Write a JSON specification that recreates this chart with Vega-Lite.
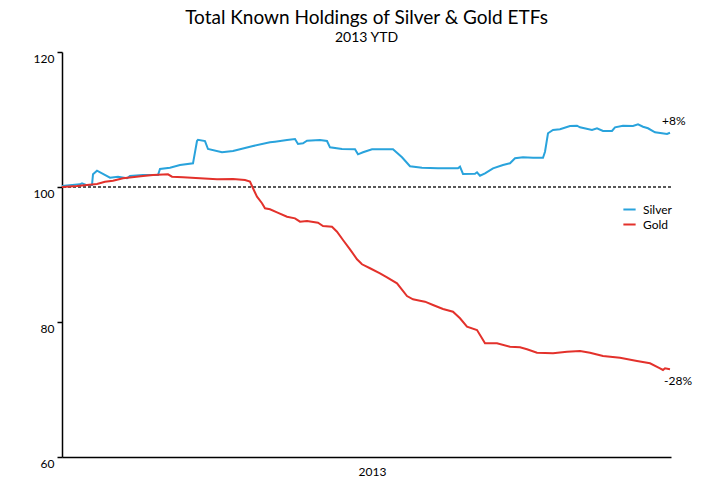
{
  "$schema": "https://vega.github.io/schema/vega-lite/v6.json",
  "autosize": "none",
  "width": 609,
  "height": 405,
  "padding": {"left": 62, "top": 52, "right": 57, "bottom": 25},
  "background": "white",
  "config": {
    "view": {"stroke": null},
    "font": "Lato",
    "axis": {"labelFont": "Lato", "titleFont": "Lato", "labelColor": "black", "titleColor": "black", "domainColor": "black", "tickColor": "black", "grid": false}
  },
  "title": {
    "text": "Total Known Holdings of Silver & Gold ETFs",
    "subtitle": "2013 YTD",
    "anchor": "middle",
    "font": "Lato",
    "fontSize": 19,
    "fontWeight": "normal",
    "color": "black",
    "subtitleFont": "Lato",
    "subtitleFontSize": 14,
    "subtitleColor": "black",
    "subtitlePadding": 3,
    "offset": 6
  },
  "datasets": {
    "main": [
      {"series": "Silver", "t": 0, "v": 100.15},
      {"series": "Silver", "t": 18, "v": 100.4},
      {"series": "Silver", "t": 20, "v": 100.55},
      {"series": "Silver", "t": 24, "v": 100.3},
      {"series": "Silver", "t": 30, "v": 100.3},
      {"series": "Silver", "t": 31, "v": 101.88},
      {"series": "Silver", "t": 35, "v": 102.41},
      {"series": "Silver", "t": 48, "v": 101.38},
      {"series": "Silver", "t": 56, "v": 101.53},
      {"series": "Silver", "t": 65, "v": 101.29},
      {"series": "Silver", "t": 68, "v": 101.63},
      {"series": "Silver", "t": 81, "v": 101.78},
      {"series": "Silver", "t": 96, "v": 101.78},
      {"series": "Silver", "t": 98, "v": 102.67},
      {"series": "Silver", "t": 108, "v": 102.86},
      {"series": "Silver", "t": 118, "v": 103.26},
      {"series": "Silver", "t": 131, "v": 103.51},
      {"series": "Silver", "t": 135, "v": 106.81},
      {"series": "Silver", "t": 136, "v": 107.0},
      {"series": "Silver", "t": 143, "v": 106.81},
      {"series": "Silver", "t": 146, "v": 105.63},
      {"series": "Silver", "t": 160, "v": 105.14},
      {"series": "Silver", "t": 171, "v": 105.33},
      {"series": "Silver", "t": 191, "v": 106.07},
      {"series": "Silver", "t": 208, "v": 106.62},
      {"series": "Silver", "t": 213, "v": 106.71},
      {"series": "Silver", "t": 225, "v": 106.96},
      {"series": "Silver", "t": 233, "v": 107.11},
      {"series": "Silver", "t": 236, "v": 106.37},
      {"series": "Silver", "t": 241, "v": 106.47},
      {"series": "Silver", "t": 245, "v": 106.86},
      {"series": "Silver", "t": 258, "v": 106.96},
      {"series": "Silver", "t": 265, "v": 106.81},
      {"series": "Silver", "t": 268, "v": 105.88},
      {"series": "Silver", "t": 280, "v": 105.63},
      {"series": "Silver", "t": 293, "v": 105.59},
      {"series": "Silver", "t": 296, "v": 104.84},
      {"series": "Silver", "t": 301, "v": 105.14},
      {"series": "Silver", "t": 310, "v": 105.59},
      {"series": "Silver", "t": 331, "v": 105.59},
      {"series": "Silver", "t": 340, "v": 104.4},
      {"series": "Silver", "t": 348, "v": 103.07},
      {"series": "Silver", "t": 360, "v": 102.86},
      {"series": "Silver", "t": 376, "v": 102.77},
      {"series": "Silver", "t": 396, "v": 102.77},
      {"series": "Silver", "t": 398, "v": 103.01},
      {"series": "Silver", "t": 401, "v": 101.93},
      {"series": "Silver", "t": 413, "v": 101.97},
      {"series": "Silver", "t": 415, "v": 102.18},
      {"series": "Silver", "t": 418, "v": 101.67},
      {"series": "Silver", "t": 423, "v": 102.03},
      {"series": "Silver", "t": 431, "v": 102.77},
      {"series": "Silver", "t": 441, "v": 103.26},
      {"series": "Silver", "t": 448, "v": 103.51},
      {"series": "Silver", "t": 453, "v": 104.25},
      {"series": "Silver", "t": 461, "v": 104.4},
      {"series": "Silver", "t": 471, "v": 104.34},
      {"series": "Silver", "t": 481, "v": 104.34},
      {"series": "Silver", "t": 483, "v": 105.23},
      {"series": "Silver", "t": 486, "v": 107.96},
      {"series": "Silver", "t": 491, "v": 108.44},
      {"series": "Silver", "t": 498, "v": 108.55},
      {"series": "Silver", "t": 508, "v": 109.04},
      {"series": "Silver", "t": 515, "v": 109.08},
      {"series": "Silver", "t": 518, "v": 108.84},
      {"series": "Silver", "t": 530, "v": 108.44},
      {"series": "Silver", "t": 535, "v": 108.7},
      {"series": "Silver", "t": 541, "v": 108.3},
      {"series": "Silver", "t": 550, "v": 108.3},
      {"series": "Silver", "t": 553, "v": 108.84},
      {"series": "Silver", "t": 561, "v": 109.08},
      {"series": "Silver", "t": 571, "v": 109.04},
      {"series": "Silver", "t": 576, "v": 109.29},
      {"series": "Silver", "t": 581, "v": 108.93},
      {"series": "Silver", "t": 586, "v": 108.7},
      {"series": "Silver", "t": 593, "v": 108.1},
      {"series": "Silver", "t": 600, "v": 107.96},
      {"series": "Silver", "t": 605, "v": 107.85},
      {"series": "Silver", "t": 608, "v": 108.04},
      {"series": "Gold", "t": 0, "v": 100.0},
      {"series": "Gold", "t": 15, "v": 100.15},
      {"series": "Gold", "t": 25, "v": 100.3},
      {"series": "Gold", "t": 35, "v": 100.44},
      {"series": "Gold", "t": 43, "v": 100.79},
      {"series": "Gold", "t": 51, "v": 100.93},
      {"series": "Gold", "t": 61, "v": 101.29},
      {"series": "Gold", "t": 70, "v": 101.44},
      {"series": "Gold", "t": 81, "v": 101.63},
      {"series": "Gold", "t": 91, "v": 101.78},
      {"series": "Gold", "t": 106, "v": 101.88},
      {"series": "Gold", "t": 110, "v": 101.53},
      {"series": "Gold", "t": 121, "v": 101.44},
      {"series": "Gold", "t": 138, "v": 101.29},
      {"series": "Gold", "t": 155, "v": 101.14},
      {"series": "Gold", "t": 171, "v": 101.19},
      {"series": "Gold", "t": 183, "v": 101.04},
      {"series": "Gold", "t": 188, "v": 100.79},
      {"series": "Gold", "t": 191, "v": 99.81},
      {"series": "Gold", "t": 195, "v": 98.56},
      {"series": "Gold", "t": 200, "v": 97.59},
      {"series": "Gold", "t": 203, "v": 96.84},
      {"series": "Gold", "t": 208, "v": 96.7},
      {"series": "Gold", "t": 215, "v": 96.25},
      {"series": "Gold", "t": 225, "v": 95.6},
      {"series": "Gold", "t": 233, "v": 95.36},
      {"series": "Gold", "t": 238, "v": 94.86},
      {"series": "Gold", "t": 245, "v": 94.96},
      {"series": "Gold", "t": 256, "v": 94.71},
      {"series": "Gold", "t": 261, "v": 94.22},
      {"series": "Gold", "t": 270, "v": 94.12},
      {"series": "Gold", "t": 275, "v": 93.38},
      {"series": "Gold", "t": 281, "v": 92.15},
      {"series": "Gold", "t": 288, "v": 90.77},
      {"series": "Gold", "t": 295, "v": 89.29},
      {"series": "Gold", "t": 300, "v": 88.55},
      {"series": "Gold", "t": 308, "v": 87.96},
      {"series": "Gold", "t": 318, "v": 87.21},
      {"series": "Gold", "t": 325, "v": 86.62},
      {"series": "Gold", "t": 335, "v": 85.73},
      {"series": "Gold", "t": 345, "v": 83.85},
      {"series": "Gold", "t": 351, "v": 83.36},
      {"series": "Gold", "t": 358, "v": 83.16},
      {"series": "Gold", "t": 363, "v": 83.01},
      {"series": "Gold", "t": 371, "v": 82.52},
      {"series": "Gold", "t": 381, "v": 81.93},
      {"series": "Gold", "t": 391, "v": 81.53},
      {"series": "Gold", "t": 398, "v": 80.55},
      {"series": "Gold", "t": 405, "v": 79.3},
      {"series": "Gold", "t": 415, "v": 78.81},
      {"series": "Gold", "t": 420, "v": 77.59},
      {"series": "Gold", "t": 423, "v": 76.84},
      {"series": "Gold", "t": 435, "v": 76.84},
      {"series": "Gold", "t": 448, "v": 76.34},
      {"series": "Gold", "t": 458, "v": 76.25},
      {"series": "Gold", "t": 465, "v": 75.96},
      {"series": "Gold", "t": 475, "v": 75.45},
      {"series": "Gold", "t": 491, "v": 75.36},
      {"series": "Gold", "t": 505, "v": 75.6},
      {"series": "Gold", "t": 518, "v": 75.7},
      {"series": "Gold", "t": 528, "v": 75.45},
      {"series": "Gold", "t": 541, "v": 74.96},
      {"series": "Gold", "t": 558, "v": 74.71},
      {"series": "Gold", "t": 575, "v": 74.22},
      {"series": "Gold", "t": 588, "v": 73.88},
      {"series": "Gold", "t": 598, "v": 73.14},
      {"series": "Gold", "t": 601, "v": 72.89},
      {"series": "Gold", "t": 603, "v": 73.14},
      {"series": "Gold", "t": 608, "v": 72.99}
    ]
  },
  "layer": [
    {
      "data": {"values": [{"ref": 100}]},
      "mark": {"type": "rule", "color": "#222222", "strokeWidth": 1.5, "strokeDash": [3, 2]},
      "encoding": {
        "y": {"field": "ref", "type": "quantitative", "scale": {"domain": [60, 120], "nice": false, "zero": false}}
      }
    },
    {
      "data": {"name": "main"},
      "mark": {"type": "line", "strokeWidth": 2, "interpolate": "linear"},
      "encoding": {
        "x": {
          "field": "t", "type": "quantitative",
          "scale": {"domain": [0, 609], "nice": false, "zero": false},
          "axis": {"title": "2013", "titleFontSize": 12, "titleFontWeight": "normal", "titlePadding": 9, "titleX": 310, "labels": false, "ticks": false, "domainWidth": 1.5, "domainColor": "black"}
        },
        "y": {
          "field": "v", "type": "quantitative",
          "scale": {"domain": [60, 120], "nice": false, "zero": false},
          "axis": {"title": null, "values": [60, 80, 100, 120], "tickSize": 5, "tickWidth": 1.5, "domainWidth": 1.5, "labelFontSize": 12, "labelPadding": 3, "labelOffset": 6}
        },
        "color": {
          "field": "series", "type": "nominal",
          "scale": {"domain": ["Silver", "Gold"], "range": ["#29a3dc", "#e3312b"]},
          "legend": {"title": null, "orient": "none", "legendX": 560, "legendY": 150, "symbolType": "stroke", "symbolSize": 150, "symbolStrokeWidth": 2, "labelFontSize": 12, "labelFont": "Lato", "labelColor": "black", "rowPadding": 1, "labelOffset": 6}
        },
        "detail": {"field": "series"}
      }
    },
    {
      "data": {"values": [{"t": 608, "v": 108.04, "label": "+8%"}]},
      "mark": {"type": "text", "align": "left", "baseline": "middle", "dx": -8, "dy": -12, "fontSize": 12, "font": "Lato", "color": "black"},
      "encoding": {
        "x": {"field": "t", "type": "quantitative"},
        "y": {"field": "v", "type": "quantitative"},
        "text": {"field": "label"}
      }
    },
    {
      "data": {"values": [{"t": 608, "v": 72.99, "label": "-28%"}]},
      "mark": {"type": "text", "align": "left", "baseline": "middle", "dx": -6, "dy": 12, "fontSize": 12, "font": "Lato", "color": "black"},
      "encoding": {
        "x": {"field": "t", "type": "quantitative"},
        "y": {"field": "v", "type": "quantitative"},
        "text": {"field": "label"}
      }
    }
  ]
}
